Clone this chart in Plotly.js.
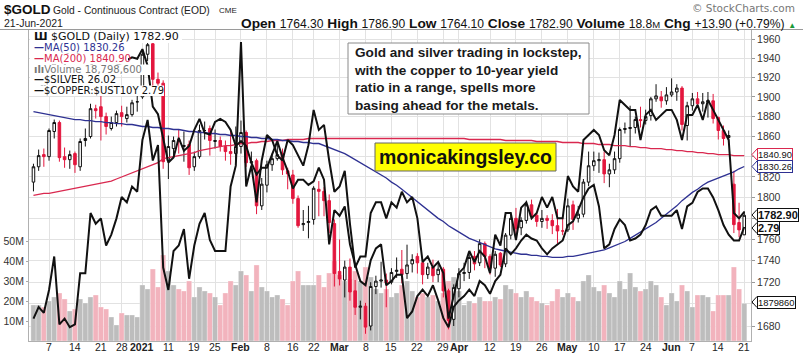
<!DOCTYPE html>
<html><head><meta charset="utf-8">
<script src="https://cdn.plot.ly/plotly-3.0.1.min.js"></script>
<style>html,body{margin:0;padding:0;background:#fff;}#chart{width:803px;height:357px;}</style>
</head><body><div id="chart"></div>
<script>
const dates = [
'2020-12-02','2020-12-03','2020-12-04','2020-12-07','2020-12-08','2020-12-09','2020-12-10','2020-12-11','2020-12-14','2020-12-15','2020-12-16','2020-12-17','2020-12-18','2020-12-21','2020-12-22','2020-12-23','2020-12-24','2020-12-28','2020-12-29','2020-12-30','2020-12-31',
'2021-01-04','2021-01-05','2021-01-06','2021-01-07','2021-01-08','2021-01-11','2021-01-12','2021-01-13','2021-01-14','2021-01-15','2021-01-19','2021-01-20','2021-01-21','2021-01-22','2021-01-25','2021-01-26','2021-01-27','2021-01-28','2021-01-29',
'2021-02-01','2021-02-02','2021-02-03','2021-02-04','2021-02-05','2021-02-08','2021-02-09','2021-02-10','2021-02-11','2021-02-12','2021-02-16','2021-02-17','2021-02-18','2021-02-19','2021-02-22','2021-02-23','2021-02-24','2021-02-25','2021-02-26',
'2021-03-01','2021-03-02','2021-03-03','2021-03-04','2021-03-05','2021-03-08','2021-03-09','2021-03-10','2021-03-11','2021-03-12','2021-03-15','2021-03-16','2021-03-17','2021-03-18','2021-03-19','2021-03-22','2021-03-23','2021-03-24','2021-03-25','2021-03-26','2021-03-29','2021-03-30','2021-03-31',
'2021-04-01','2021-04-05','2021-04-06','2021-04-07','2021-04-08','2021-04-09','2021-04-12','2021-04-13','2021-04-14','2021-04-15','2021-04-16','2021-04-19','2021-04-20','2021-04-21','2021-04-22','2021-04-23','2021-04-26','2021-04-27','2021-04-28','2021-04-29','2021-04-30',
'2021-05-03','2021-05-04','2021-05-05','2021-05-06','2021-05-07','2021-05-10','2021-05-11','2021-05-12','2021-05-13','2021-05-14','2021-05-17','2021-05-18','2021-05-19','2021-05-20','2021-05-21','2021-05-24','2021-05-25','2021-05-26','2021-05-27','2021-05-28',
'2021-06-01','2021-06-02','2021-06-03','2021-06-04','2021-06-07','2021-06-08','2021-06-09','2021-06-10','2021-06-11','2021-06-14','2021-06-15','2021-06-16','2021-06-17','2021-06-18','2021-06-21'];

const open = [
1815,1830,1842,1840,1865,1874,1840,1837,1843,1830,1856,1860,1888,1890,1880,1868,1874,1884,1878,1882,1895,
1900,1944,1955,1918,1914,1836,1848,1857,1850,1852,1830,1840,1866,1868,1855,1856,1850,1845,1843,
1850,1864,1834,1836,1792,1812,1832,1838,1843,1826,1822,1799,1774,1776,1779,1808,1806,1797,1775,
1730,1722,1734,1712,1697,1698,1680,1716,1721,1722,1720,1730,1732,1728,1737,1744,1738,1727,1734,1727,1732,1712,1686,
1714,1728,1729,1744,1738,1756,1744,1733,1747,1737,1764,1780,1771,1778,1793,1783,1777,1780,1778,1773,1768,
1769,1793,1780,1784,1815,1831,1836,1837,1823,1827,1838,1867,1868,1869,1877,1876,1881,1898,1900,1896,
1902,1905,1909,1871,1891,1898,1893,1895,1896,1879,1866,1859,1813,1776,1764.3];
const high = [
1833,1847,1848,1868,1877,1876,1849,1846,1845,1858,1868,1893,1892,1910,1884,1880,1886,1891,1890,1897,1901,
1948,1958,1960,1925,1917,1861,1860,1867,1865,1856,1845,1872,1875,1871,1867,1860,1856,1866,1870,
1876,1866,1845,1838,1819,1836,1843,1852,1848,1829,1827,1802,1788,1792,1811,1816,1810,1803,1779,
1760,1740,1742,1722,1703,1701,1720,1726,1739,1728,1733,1743,1750,1755,1746,1747,1742,1738,1741,1737,1734,1714,1718,
1733,1738,1746,1749,1760,1758,1746,1749,1748,1766,1785,1790,1781,1797,1798,1786,1788,1783,1784,1789,1782,
1799,1797,1792,1818,1845,1845,1844,1845,1833,1845,1869,1874,1891,1880,1890,1887,1900,1913,1906,1910,
1919,1913,1911,1895,1904,1905,1904,1905,1903,1880,1871,1866,1826,1795,1786.9];
const low = [
1806,1826,1830,1836,1858,1835,1829,1828,1824,1826,1850,1858,1878,1856,1862,1866,1870,1870,1874,1880,1885,
1898,1937,1903,1906,1828,1818,1839,1843,1835,1822,1826,1838,1857,1841,1848,1845,1836,1832,1837,
1843,1830,1830,1784,1788,1805,1826,1836,1822,1808,1794,1771,1768,1761,1774,1782,1782,1766,1716,
1717,1706,1703,1690,1686,1673,1676,1709,1715,1697,1718,1724,1719,1723,1729,1728,1718,1723,1720,1720,1706,1677,1680,
1706,1721,1723,1731,1735,1733,1727,1725,1734,1734,1760,1765,1764,1775,1779,1772,1771,1770,1765,1756,1764,
1767,1769,1776,1781,1811,1826,1824,1814,1810,1823,1834,1863,1850,1863,1869,1872,1876,1895,1889,1892,
1900,1896,1866,1856,1886,1889,1885,1879,1873,1857,1851,1852,1766,1762,1764.1];
const close = [
1830,1841,1840,1866,1874,1839,1837,1842,1832,1855,1858,1888,1886,1880,1870,1874,1883,1880,1882,1894,1895,
1944,1954,1918,1914,1835,1850,1856,1855,1851,1829,1840,1866,1866,1856,1856,1850,1845,1843,1850,
1864,1834,1835,1792,1813,1832,1838,1842,1827,1823,1799,1773,1775,1777,1809,1806,1797,1776,1728,
1723,1734,1711,1697,1698,1679,1716,1721,1722,1719,1729,1731,1727,1736,1741,1738,1727,1734,1726,1732,1712,1685,1715,
1728,1729,1743,1737,1756,1744,1733,1746,1736,1764,1780,1770,1778,1793,1782,1777,1780,1778,1773,1768,1768,
1792,1779,1784,1815,1831,1836,1837,1823,1827,1838,1867,1868,1869,1877,1876,1880,1898,1901,1896,1902,
1905,1909,1872,1891,1898,1893,1895,1896,1878,1866,1858,1861,1774,1769,1782.9];
// volume in millions
const volumeM = [
18,18,17,20,22,24,21,15,16,21,19,22,23,17,16,12,8,14,13,13,12,
28,26,36,27,43,35,28,26,25,30,22,27,25,24,22,18,24,30,28,
35,33,25,38,27,25,22,23,21,18,30,35,28,28,28,33,27,34,40,
33,30,31,35,30,37,32,26,24,26,22,24,28,30,25,22,24,22,23,20,24,30,32,
25,18,20,19,22,20,20,22,21,28,26,24,22,25,22,20,19,18,20,26,22,
24,22,20,30,33,27,25,28,24,22,30,26,34,27,25,26,30,28,22,18,
24,20,28,25,17,23,23,22,15,23,23,23,37,26,18.7986];
const ma50 = [
1885,1884,1883,1882,1881,1880,1879,1878,1877,1877,1876,1876,1875,1875,1874,1874,1873,1873,1872,1872,
1871,1870,1870,1869,1869,1868,1868,1867,1867,1866,1865,1865,1864,1864,1863,1863,1862,1862,1861,1861,
1860,1860,1859,1859,1858,1858,1857,1857,1856,1856,1855,1855,1854,1854,1853,1853,1851,1849,1847,1845,
1843,1840,1837,1834,1831,1828,1825,1822,1819,1815,1812,1808,1804,1800,1796,1792,1788,1784,1780,1777,
1773,1770,1767,1764,1761,1759,1757,1755,1753,1751,1750,1749,1748,1747,1746,1746,1745,1745,1744,1744,
1743,1743,1743,1744,1744,1745,1746,1747,1748,1749,1750,1752,1754,1756,1758,1761,1764,1767,1770,1773,
1776,1780,1784,1788,1792,1797,1801,1805,1808,1812,1815,1817,1819,1821,1823,1825,1828,1830.26];
const ma200 = [
1802,1803,1804,1804,1805,1806,1807,1808,1809,1810,1811,1812,1813,1814,1815,1816,1818,1820,1822,1824,
1826,1828,1830,1832,1834,1838,1839,1840,1841,1842,1843,1844,1846,1847,1848,1849,1850,1851,1851,1852,
1853,1853,1854,1854,1855,1855,1856,1856,1856,1857,1857,1857,1857,1858,1858,1858,1858,1858,1858,1858,
1858,1858,1858,1858,1858,1858,1858,1858,1858,1858,1858,1858,1858,1858,1858,1858,1858,1858,1858,1858,
1858,1858,1858,1858,1857,1857,1857,1857,1857,1857,1857,1856,1856,1856,1856,1856,1856,1855,1855,1855,
1855,1855,1854,1854,1854,1854,1853,1853,1853,1852,1852,1852,1851,1851,1851,1850,1850,1849,1849,1848,
1848,1848,1847,1847,1846,1846,1845,1845,1844,1844,1843,1843,1842,1842,1842,1841,1841,1840.9];
const silver = [
24.1,24.3,24.2,24.6,25.2,24.0,24.1,23.95,24.0,24.9,24.9,26.0,25.8,25.9,25.4,25.6,25.9,26.3,26.2,26.5,26.4,
27.4,27.8,27.0,27.3,25.0,24.6,25.3,25.4,25.7,24.8,25.4,25.8,26.0,25.5,25.3,25.3,25.3,26.5,26.9,
29.4,26.5,26.9,26.2,27.0,27.5,27.4,27.1,27.0,27.4,27.3,27.1,26.9,27.3,28.0,27.6,27.7,27.0,26.4,
26.5,26.8,25.8,25.0,25.2,25.2,26.0,26.2,26.2,25.9,26.2,26.1,26.4,26.2,26.3,25.9,25.1,25.2,25.0,25.1,24.9,24.1,24.5,
24.9,25.0,25.3,25.1,25.3,25.2,24.9,25.6,25.4,26.0,26.0,25.5,26.1,26.2,25.9,26.0,26.3,26.1,26.3,25.9,25.9,
26.7,26.5,26.4,27.4,27.5,27.6,27.5,27.2,27.1,27.5,28.2,28.1,28.0,28.0,27.4,27.9,28.0,27.8,27.9,28.0,
28.0,27.8,27.4,27.9,27.9,28.1,27.8,28.2,28.0,27.8,27.6,27.4,26.0,25.9,26.02];
const copperYield = [
3.70,3.68,3.62,3.75,3.80,3.72,3.78,3.93,3.90,3.85,3.80,3.80,3.75,3.70,3.78,3.70,3.78,3.80,3.82,3.84,3.83,
3.90,3.78,3.50,3.45,3.30,3.15,3.18,3.30,3.22,3.25,3.35,3.42,3.33,3.32,3.40,3.42,3.40,3.35,3.25,
3.28,3.25,3.15,3.08,3.12,3.12,3.20,3.28,3.18,3.10,3.00,3.05,3.05,3.02,3.04,3.12,3.05,2.70,2.88,
2.85,2.90,2.70,2.60,2.52,2.50,2.62,2.68,2.70,2.50,2.52,2.55,2.55,2.35,2.38,2.45,2.48,2.45,2.50,2.43,2.35,2.31,2.40,
2.43,2.45,2.48,2.45,2.52,2.50,2.46,2.52,2.55,2.68,2.65,2.68,2.72,2.75,2.73,2.72,2.68,2.65,2.68,2.70,2.72,
2.80,2.82,2.88,2.95,3.00,3.02,2.90,2.68,2.70,2.78,2.83,2.80,2.72,2.73,2.75,2.80,2.88,2.90,2.85,2.85,
2.85,2.88,2.78,2.90,2.92,2.98,3.00,3.00,2.95,2.88,2.80,2.75,2.72,2.72,2.79];

const xTickVals = ['2020-12-07','2020-12-14','2020-12-21','2020-12-28','2021-01-04','2021-01-11','2021-01-19','2021-01-25','2021-02-01','2021-02-08','2021-02-16','2021-02-22','2021-03-01','2021-03-08','2021-03-15','2021-03-22','2021-03-29','2021-04-01','2021-04-12','2021-04-19','2021-04-26','2021-05-03','2021-05-10','2021-05-17','2021-05-24','2021-06-01','2021-06-07','2021-06-14','2021-06-21'];
const xTickText = ['7','14','21','28','<b>2021</b>','11','19','25','<b>Feb</b>','8','16','22','<b>Mar</b>','8','15','22','29','<b>Apr</b>','12','19','26','<b>May</b>','10','17','24','<b>Jun</b>','7','14','21'];
const priceTicks = [1680,1700,1720,1740,1760,1780,1800,1820,1840,1860,1880,1900,1920,1940,1960];
const priceTickText = ['1680','','1720','1740','1760','','1800','1820','','1860','1880','1900','1920','1940','1960'];
const volTicks = [10,20,30,40,50];
const volTickText = ['10M','20M','30M','40M','50M'];

// layout geometry (pixels)
const L = 29, R = 751, T = 30, B = 341;
const X = px => (px - L) / (R - L);
const Y = py => (B - py) / (B - T);

const volColors = close.map((c, i) => (i > 0 && c < close[i-1]) ? '#f2b3bd' : '#bdbdbd');

const traces = [
  {type:'bar', x:dates, y:volumeM, yaxis:'y', marker:{color:volColors, line:{width:0.5, color:'rgba(255,255,255,0.6)'}}, hoverinfo:'skip'},
  {type:'candlestick', x:dates, open:open, high:high, low:low, close:close, yaxis:'y2',
   increasing:{line:{color:'#111', width:1}, fillcolor:'#ffffff'},
   decreasing:{line:{color:'#e3173e', width:1}, fillcolor:'#e3173e'}, whiskerwidth:0},
  {type:'scatter', mode:'lines', x:dates, y:ma200, yaxis:'y2', line:{color:'#d9284f', width:1.3}},
  {type:'scatter', mode:'lines', x:dates, y:ma50, yaxis:'y2', line:{color:'#2e3192', width:1.3}},
  {type:'scatter', mode:'lines', x:dates, y:silver, yaxis:'y3', line:{color:'#111', width:2}},
  {type:'scatter', mode:'lines', x:dates, y:copperYield, yaxis:'y4', line:{color:'#111', width:2}}
];

const F = 'Liberation Sans, Arial, sans-serif';
const V = 'DejaVu Sans, Verdana, sans-serif';
const ann = [];
function A(txt, px, py, opt) { ann.push(Object.assign({text:txt, x:X(px), y:Y(py), xref:'paper', yref:'paper', showarrow:false, xanchor:'left', yanchor:'middle', font:{family:F, size:11, color:'#222'}}, opt||{})); }

// header
A('<b>$GOLD</b>', 2, 10, {font:{family:F, size:13.5, color:'#111'}});
A('Gold - Continuous Contract (EOD)', 51, 11, {font:{family:F, size:10.3, color:'#222'}});
A('CME', 217, 10.5, {font:{family:F, size:8, color:'#222'}});
A('21-Jun-2021', 2, 23, {font:{family:F, size:10.5, color:'#222'}});
const vs = s => '<span style="font-size:12.1px;font-weight:normal">' + s + '</span>';
A('<b>Open</b> ' + vs('1764.30') + ' <b>High</b> ' + vs('1786.90') + ' <b>Low</b> ' + vs('1764.10') + ' <b>Close</b> ' + vs('1782.90') + ' <b>Volume</b> ' + vs('18.8') + '<span style="font-size:9.5px">M</span> <b>Chg</b> ' + vs('+13.90 (+0.79%)') + ' <span style="color:#1a9a3a;font-size:8px">▲</span>', 798, 23, {xanchor:'right', font:{family:F, size:13.7, color:'#111'}});
A('© StockCharts.com', 797, 8, {xanchor:'right', font:{family:V, size:10.5, color:'#777'}});

// legend
A('<b>Ш</b> $GOLD (Daily) 1782.90', 32, 36.5, {font:{family:V, size:11, color:'#111'}});
A('<b>—</b>MA(50) 1830.26', 32, 48, {font:{family:V, size:10, color:'#2e3192'}});
A('<b>—</b>MA(200) 1840.90', 32, 59, {font:{family:V, size:10, color:'#d9284f'}});
A('<b>ılı</b>Volume 18,798,600', 32, 69.5, {font:{family:V, size:10, color:'#777'}});
A('<b>—</b>$SILVER 26.02', 32, 80, {font:{family:V, size:10, color:'#111'}});
A('<b>—</b>$COPPER:$UST10Y 2.79', 32, 90.5, {font:{family:V, size:10, color:'#111'}});

// comment box
A('<b>Gold and silver trading in lockstep,<br>with the copper to 10-year yield<br>ratio in a range, spells more<br>basing ahead for the metals.</b>', 352, 79, {align:'left', font:{family:F, size:13.6, color:'#1a1a1a'}});
A('<b>monicakingsley.co</b>', 465, 157, {xanchor:'center', font:{family:F, size:19.5, color:'#111'}});

// x tick labels (drawn at the category positions of the axis)
xTickVals.forEach((d, k) => {
  ann.push({text:xTickText[k], x:dates.indexOf(d), xref:'x', y:Y(347), yref:'paper', showarrow:false, xanchor:'center', yanchor:'middle', font:{family:F, size:10.5, color:'#222'}});
});

const shapes = [
  {type:'line', xref:'paper', yref:'paper', x0:X(0), x1:X(803), y0:Y(29.5), y1:Y(29.5), line:{color:'#9a9a9a', width:1}},
  {type:'rect', xref:'paper', yref:'paper', x0:X(348), x1:X(589), y0:Y(43), y1:Y(114), line:{color:'#8a8a8a', width:1}, fillcolor:'#ffffff', layer:'above'},
  {type:'rect', xref:'paper', yref:'paper', x0:X(375), x1:X(556), y0:Y(143), y1:Y(171), line:{color:'#666', width:1}, fillcolor:'#ffff00', layer:'above'}
];
// legend backing (white, per row)
[[31,43,182],[43,53.5,123],[53.5,64.5,128],[64.5,75,150],[75,85.5,114],[85.5,96,164]].forEach(([y0,y1,x1]) => {
  shapes.push({type:'rect', xref:'paper', yref:'paper', x0:X(30), x1:X(x1), y0:Y(y0), y1:Y(y1), line:{width:0}, fillcolor:'#ffffff', layer:'above'});
});
// right-hand value labels
const tags = [['1840.90',154.5,'#d9284f',false],['1830.26',166.5,'#2e3192',false],['1782.90',215,'#111',true],['2.79',228,'#111',true],['1879860',302,'#111',false]];
tags.forEach(([t, y, c, b]) => {
  A(b ? '<b>'+t+'</b>' : t, 757, y, {font:{family:F, size:b?11:9.4, color:'#111'}, bgcolor:'#fff', bordercolor:c, borderwidth:1, borderpad:0});
  shapes.push({type:'path', xref:'paper', yref:'paper', path:`M ${X(757)} ${Y(y-5.5)} L ${X(752)} ${Y(y)} L ${X(757)} ${Y(y+5.5)}`, line:{color:c, width:1}, fillcolor:'#fff', layer:'above'});
});

const layout = {
  width:803, height:357, margin:{l:L, r:803-R, t:T, b:357-B, pad:0},
  paper_bgcolor:'#fff', plot_bgcolor:'#fff', showlegend:false, bargap:0,
  font:{family:F, size:11, color:'#222'},
  xaxis:{type:'category', range:[-0.86, 138.3], tickmode:'array', tickvals:xTickVals, ticktext:xTickText, showticklabels:false,
         showgrid:true, gridcolor:'#e2e2e2', showline:true, linecolor:'#b0b0b0', mirror:true, ticks:'',
         rangeslider:{visible:false}, fixedrange:true},
  yaxis:{range:[0,155.5], side:'left', tickmode:'array', tickvals:volTicks, ticktext:volTickText, showgrid:false, zeroline:false,
         showline:true, linecolor:'#b0b0b0', ticks:'outside', ticklen:2, tickcolor:'#aaa', tickfont:{family:F, size:10.5, color:'#333'}, fixedrange:true},
  yaxis2:{overlaying:'y', side:'right', type:'log', range:[3.22181, 3.294355], tickmode:'array', tickvals:priceTicks, ticktext:priceTickText,
         showgrid:true, gridcolor:'#e2e2e2', zeroline:false, showline:true, linecolor:'#b0b0b0', ticks:'outside', ticklen:3, tickcolor:'#999',
         tickfont:{family:F, size:10.5, color:'#333'}, fixedrange:true},
  yaxis3:{overlaying:'y', type:'log', range:[1.37501, 1.472107], visible:false, fixedrange:true},
  yaxis4:{overlaying:'y', type:'log', range:[0.352367, 0.606722], visible:false, fixedrange:true},
  annotations:ann, shapes:shapes
};
Plotly.newPlot('chart', traces, layout, {staticPlot:true, displayModeBar:false});
</script></body></html>
